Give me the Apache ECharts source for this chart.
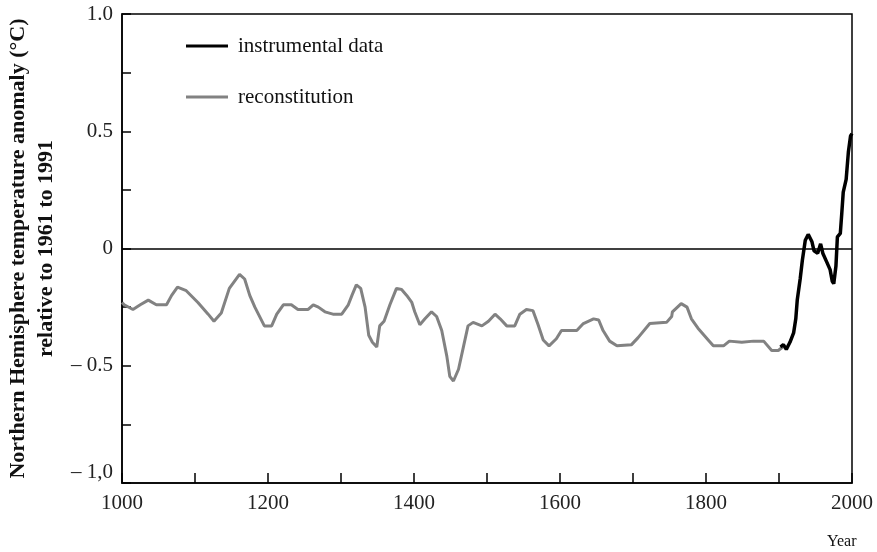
<!DOCTYPE html>
<html>
<head>
<meta charset="utf-8">
<script src="https://cdn.jsdelivr.net/npm/echarts@6/dist/echarts.min.js"></script>
<style>
html,body{margin:0;padding:0;background:#fff;}
#chart{width:877px;height:552px;}
</style>
</head>
<body>
<div id="chart"></div>
<script>
// ---- data ----
const reconYears = [1000,1003,1015,1025,1036,1047,1061,1068,1076,1088,1104,1118,1126,1136,1147,1161,1168,1175,1182,1195,
  1205,1212,1221,1232,1241,1255,1262,1269,1278,1289,1301,1310,1315,1321,1327,1333,1338,1343,1349,1353,
  1359,1367,1376,1383,1390,1397,1401,1408,1415,1424,1431,1438,1445,1449,1454,1461,1468,1474,1481,1493,
  1502,1511,1518,1527,1538,1545,1554,1563,1570,1577,1585,1595,1602,1623,1632,1646,1653,1659,1668,1678,
  1698,1707,1723,1746,1753,1754,1766,1774,1780,1789,1803,1810,1824,1832,1849,1865,1879,1890,1899,1905];
const reconValues = [-0.23,-0.24,-0.26,-0.24,-0.22,-0.24,-0.24,-0.20,-0.165,-0.18,-0.23,-0.28,-0.31,-0.275,-0.17,-0.11,-0.13,-0.20,-0.25,-0.33,
  -0.33,-0.28,-0.24,-0.24,-0.26,-0.26,-0.24,-0.25,-0.27,-0.28,-0.28,-0.24,-0.20,-0.155,-0.17,-0.25,-0.37,-0.40,-0.42,-0.33,
  -0.31,-0.24,-0.17,-0.175,-0.20,-0.23,-0.27,-0.325,-0.30,-0.27,-0.29,-0.35,-0.46,-0.545,-0.565,-0.515,-0.415,-0.33,-0.315,-0.33,
  -0.31,-0.28,-0.30,-0.33,-0.33,-0.28,-0.26,-0.265,-0.325,-0.39,-0.415,-0.385,-0.35,-0.35,-0.32,-0.30,-0.305,-0.35,-0.395,-0.415,
  -0.41,-0.38,-0.32,-0.315,-0.29,-0.27,-0.235,-0.25,-0.30,-0.34,-0.39,-0.415,-0.415,-0.395,-0.40,-0.395,-0.395,-0.435,-0.435,-0.42];
const instYears = [1902,1906,1910,1915,1920,1923,1925,1929,1932,1936,1940,1945,1948,1953,1957,1960,1965,1970,1973,1975,1978,1980,1984,1986,1988,1992,1995,1998,2000];
const instValues = [-0.42,-0.41,-0.43,-0.40,-0.36,-0.30,-0.22,-0.13,-0.05,0.035,0.06,0.03,-0.01,-0.02,0.02,-0.02,-0.055,-0.09,-0.14,-0.15,-0.075,0.05,0.065,0.15,0.24,0.295,0.41,0.48,0.49];
const seriesNames = ['instrumental data','reconstitution'];
const yTickValues = [-1,-0.5,0,0.5,1];
const yTickLabels = ['\u2013 1,0','\u2013 0.5','0','0.5','1.0'];
const xTickLabels = ['1000','1200','1400','1600','1800','2000'];
const yAxisTitle = 'Northern Hemisphere temperature anomaly (\u00B0C)\nrelative to 1961 to 1991';
const xAxisTitle = 'Year';

const serif = '"Liberation Serif","DejaVu Serif",serif';
const reconData = reconYears.map((y,i)=>[y,reconValues[i]]);
const instData = instYears.map((y,i)=>[y,instValues[i]]);

const chart = echarts.init(document.getElementById('chart'), null, {renderer:'canvas'});
chart.setOption({
  animation:false,
  backgroundColor:'#fff',
  title:{
    text:xAxisTitle, left:822, top:529,
    textStyle:{fontFamily:serif, fontSize:16, fontWeight:'normal', color:'#111'}
  },
  legend:{
    data:[seriesNames[0],seriesNames[1]],
    orient:'vertical', left:181, top:29,
    icon:'rect', itemWidth:42, itemHeight:3, itemGap:27,
    textStyle:{fontFamily:serif, fontSize:21, color:'#111', lineHeight:24, padding:[0,0,0,5]},
    selectedMode:false
  },
  grid:{left:122, right:25, top:14, bottom:69, outerBoundsMode:'none', containLabel:false,
        show:true, borderColor:'#000', borderWidth:1.5, backgroundColor:'transparent'},
  xAxis:{
    type:'value', min:1000, max:2000, interval:200,
    axisLine:{onZero:false, lineStyle:{color:'#000', width:1.5}},
    axisTick:{inside:true, length:10, lineStyle:{color:'#000', width:1.5}},
    minorTick:{show:true, splitNumber:2, length:10, lineStyle:{color:'#000', width:1.5}},
    splitLine:{show:false},
    axisLabel:{
      margin:10, fontFamily:serif, fontSize:21, color:'#222',
      formatter:v=>{const i=xTickLabels.indexOf(String(v)); return i>=0?xTickLabels[i]:'';}
    }
  },
  yAxis:{
    type:'value', min:-1, max:1, interval:0.5,
    name:yAxisTitle, nameLocation:'middle', nameRotate:90, nameGap:60,
    nameTextStyle:{fontFamily:serif, fontSize:22, fontWeight:'bold', color:'#111', lineHeight:28},
    axisLine:{lineStyle:{color:'#000', width:1.5}},
    axisTick:{inside:true, length:9, lineStyle:{color:'#000', width:1.5}},
    minorTick:{show:true, splitNumber:2, length:9, lineStyle:{color:'#000', width:1.5}},
    splitLine:{show:false},
    axisLabel:{
      margin:9, fontFamily:serif, fontSize:21, color:'#222',
      verticalAlignMinLabel:'bottom',
      formatter:v=>{
        let i=-1; yTickValues.forEach((t,k)=>{ if(Math.abs(t-v)<1e-9) i=k; });
        return i>=0?yTickLabels[i]:'';
      }
    }
  },
  series:[
    {
      name:seriesNames[1], type:'line', data:reconData, showSymbol:false, symbol:'none',
      lineStyle:{color:'#828282', width:3}, itemStyle:{color:'#828282'},
      z:2,
      markLine:{
        silent:true, symbol:'none', label:{show:false},
        lineStyle:{color:'#000', width:1.5, type:'solid'},
        data:[{yAxis:0}]
      }
    },
    {
      name:seriesNames[0], type:'line', data:instData, showSymbol:false, symbol:'none',
      lineStyle:{color:'#000', width:3.5}, itemStyle:{color:'#000'},
      z:3
    }
  ]
});
</script>
</body>
</html>
